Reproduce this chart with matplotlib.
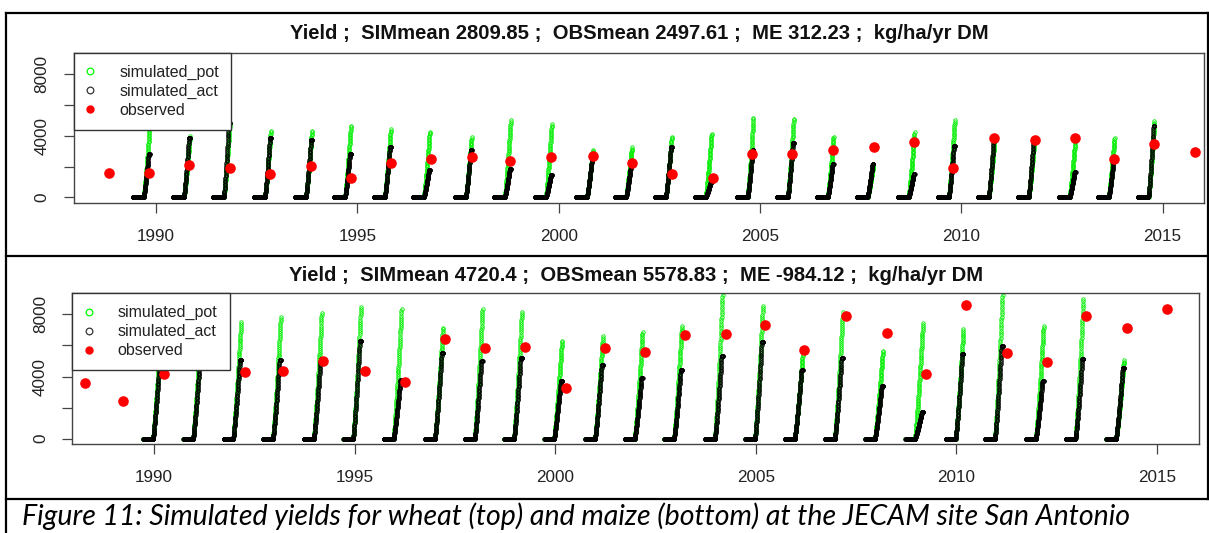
import numpy as np
import matplotlib
matplotlib.use("Agg")
import matplotlib.pyplot as plt
from matplotlib.lines import Line2D

# ---------------- data (decimal years ; kg/ha/yr DM) ----------------
# wheat (top panel): start of each simulated season, season peaks, observations
wheat_sow = [1989.42, 1990.42, 1991.41, 1992.43, 1993.45, 1994.42, 1995.41, 1996.38,
             1997.42, 1998.39, 1999.41, 2000.43, 2001.40, 2002.39, 2003.38, 2004.42,
             2005.42, 2006.41, 2007.40, 2008.42, 2009.42, 2010.41, 2011.40, 2012.42,
             2013.39, 2014.38]
wheat_pot_peak = [4600, 3990, 4830, 4360, 4360, 4680, 4470, 4310, 3920, 5050, 4790, 3120,
                  3270, 3970, 4180, 5220, 5150, 3970, 2190, 4250, 5050, 3870, 3760, 3970,
                  3880, 5010]
wheat_act_peak = [2840, 3880, 4830, 3820, 3710, 2840, 3270, 1760, 3060, 1870, 1430, 2520,
                  2080, 3270, 1000, 3060, 3500, 2190, 2190, 1500, 3320, 3820, 3710, 1650,
                  2410, 4620]
wheat_obs_date = [1988.84, 1989.83, 1990.82, 1991.83, 1992.83, 1993.84, 1994.83, 1995.83,
                  1996.84, 1997.84, 1998.80, 1999.82, 2000.84, 2001.81, 2002.82, 2003.84,
                  2004.80, 2005.79, 2006.81, 2007.83, 2008.82, 2009.79, 2010.81, 2011.82,
                  2012.82, 2013.79, 2014.80, 2015.81]
wheat_obs_yield = [1580, 1580, 2080, 1930, 1540, 2020, 1280, 2230, 2470, 2620, 2340, 2620,
                   2670, 2230, 1500, 1280, 2800, 2800, 3060, 3270, 3600, 1930, 3860, 3710,
                   3860, 2470, 3490, 2950]

# maize (bottom panel)
maize_sow = [1989.73, 1990.73, 1991.73, 1992.72, 1993.74, 1994.72, 1995.73, 1996.76,
             1997.75, 1998.73, 1999.73, 2000.75, 2001.74, 2002.72, 2003.74, 2004.74,
             2005.73, 2006.73, 2007.73, 2008.73, 2009.74, 2010.72, 2011.74, 2012.73,
             2013.74]
maize_pot_peak = [7000, 7200, 7570, 7900, 8180, 8610, 8440, 7240, 8480, 8270, 6380, 6660,
                  6960, 7350, 9700, 8660, 5450, 8220, 5720, 7530, 7140, 9700, 7350, 9090,
                  5110]
maize_act_peak = [5000, 5000, 5070, 5070, 5130, 6310, 3750, 5510, 5000, 5220, 3700, 4740,
                  3880, 4420, 5330, 6220, 4450, 5180, 3370, 1700, 5460, 5940, 3720, 5130,
                  4570]
maize_obs_date = [1988.28, 1989.23, 1990.25, 1992.27, 1993.22, 1994.22, 1995.26, 1996.26,
                  1997.24, 1998.25, 1999.25, 2000.26, 2001.24, 2002.24, 2003.24, 2004.26,
                  2005.23, 2006.21, 2007.26, 2008.27, 2009.24, 2010.25, 2011.26, 2012.26,
                  2013.24, 2014.25, 2015.25]
maize_obs_yield = [3590, 2410, 4160, 4310, 4370, 5020, 4370, 3650, 6420, 5830, 5900, 3260,
                   5830, 5610, 6700, 6770, 7290, 5720, 7900, 6790, 4160, 8610, 5510, 4960,
                   7900, 7140, 8330]

x_ticks = [1990, 1995, 2000, 2005, 2010, 2015]
y_ticks = [0, 2000, 4000, 6000, 8000]
y_ticklabels = ["0", "", "4000", "", "8000"]

titles = ["Yield ;  SIMmean 2809.85 ;  OBSmean 2497.61 ;  ME 312.23 ;  kg/ha/yr DM",
          "Yield ;  SIMmean 4720.4 ;  OBSmean 5578.83 ;  ME -984.12 ;  kg/ha/yr DM"]
legend_labels = ["simulated_pot", "simulated_act", "observed"]
caption = ("Figure 11: Simulated yields for wheat (top) and maize (bottom) at the "
           "JECAM site San Antonio")

# ---------------- helpers ----------------
W, H = 1209, 533
plt.rcParams["font.family"] = ["Liberation Sans", "DejaVu Sans"]


def season_series(sow, pot_peak, act_peak, flat, rise):
    """daily simulated growth: zero until emergence, then rise to the season peak"""
    xs, pots, acts = [], [], []
    step = 1 / 365.25
    for s, pp, ap in zip(sow, pot_peak, act_peak):
        t = np.arange(0, flat + rise + 1e-9, step)
        u = np.clip((t - flat) / rise, 0, 1)
        ua = np.clip(u / 0.85, 0, 1)
        xs.append(s + t)
        pots.append(pp * u ** 1.2)
        acts.append(ap * ua ** 1.2)
    return np.concatenate(xs), np.concatenate(pots), np.concatenate(acts)


def px_rect(left, top, right, bottom):
    return [left / W, 1 - bottom / H, (right - left) / W, (bottom - top) / H]


fig = plt.figure(figsize=(W / 100, H / 100), dpi=100)
fig.patch.set_facecolor("white")

panels = [
    dict(rect=px_rect(74, 53, 1204, 203), xlim=(1987.96, 2016.03), sow=wheat_sow,
         pot=wheat_pot_peak, act=wheat_act_peak, od=wheat_obs_date, oy=wheat_obs_yield,
         flat=0.27, rise=0.15, title=titles[0], tpad=10),
    dict(rect=px_rect(72.3, 293.3, 1199, 444.3), xlim=(1987.96, 2016.05), sow=maize_sow,
         pot=maize_pot_peak, act=maize_act_peak, od=maize_obs_date, oy=maize_obs_yield,
         flat=0.24, rise=0.20, title=titles[1], tpad=9),
]

for p in panels:
    ax = fig.add_axes(p["rect"])
    x, pot, act = season_series(p["sow"], p["pot"], p["act"], p["flat"], p["rise"])
    ax.plot(x, pot, ls="none", marker="o", ms=2.5, mfc="none", mec="#00ee00", mew=0.6)
    ax.plot(x, act, ls="none", marker="o", ms=2.5, mfc="none", mec="black", mew=0.65)
    ax.plot(p["od"], p["oy"], ls="none", marker="o", ms=6.6, color="#ff0000", mec="#ff0000")
    ax.set_xlim(*p["xlim"])
    ax.set_ylim(-360, 9360)
    ax.set_xticks(x_ticks)
    ax.set_xticklabels([str(v) for v in x_ticks])
    ax.set_yticks(y_ticks)
    ax.set_yticklabels(y_ticklabels)
    for sp in ax.spines.values():
        sp.set_color("#444444")
        sp.set_linewidth(1.0)
    ax.tick_params(axis="both", direction="out", length=7, width=0.9, color="#444444",
                   labelsize=12.3, labelcolor="#222222")
    ax.tick_params(axis="x", pad=11.5)
    ax.tick_params(axis="y", pad=10.5)
    for lab in ax.get_yticklabels():
        lab.set_rotation(90)
        lab.set_va("center")
        lab.set_ha("right")
    ax.set_title(p["title"], fontsize=14.6, fontweight="bold", color="#111111", pad=p["tpad"])

    handles = [
        Line2D([], [], ls="none", marker="o", ms=4.8, mfc="none", mec="#00ff00", mew=0.9),
        Line2D([], [], ls="none", marker="o", ms=4.8, mfc="none", mec="#333333", mew=0.9),
        Line2D([], [], ls="none", marker="o", ms=5.0, color="#ff0000"),
    ]
    leg = ax.legend(handles, legend_labels, loc="upper left", bbox_to_anchor=(0, 1),
                    borderaxespad=0, fontsize=11.5, frameon=True, fancybox=False,
                    framealpha=1, edgecolor="#333333", borderpad=0.75, labelspacing=0.24,
                    handlelength=0.55, handletextpad=1.55)
    leg.get_frame().set_linewidth(1.0)
    for t in leg.get_texts():
        t.set_color("#222222")
    leg.set_zorder(5)

# table borders of the document
def hline(y, x0, x1, lw=1.6):
    fig.add_artist(Line2D([x0 / W, x1 / W], [1 - y / H, 1 - y / H], color="black", lw=lw))


def vline(x, y0, y1, lw=1.6):
    fig.add_artist(Line2D([x / W, x / W], [1 - y0 / H, 1 - y1 / H], color="black", lw=lw))


hline(12.7, 5.7, W)
hline(256, 5.7, W)
hline(499.3, 5.7, W)
vline(5.7, 12.7, H)
vline(1208, 12.7, 499.3)

fig.text(22 / W, 1 - 525 / H, caption, fontsize=20.5, style="italic",
         family=["Lato", "DejaVu Sans"], va="baseline", ha="left", color="black")

fig.savefig("out.png", dpi=100)
